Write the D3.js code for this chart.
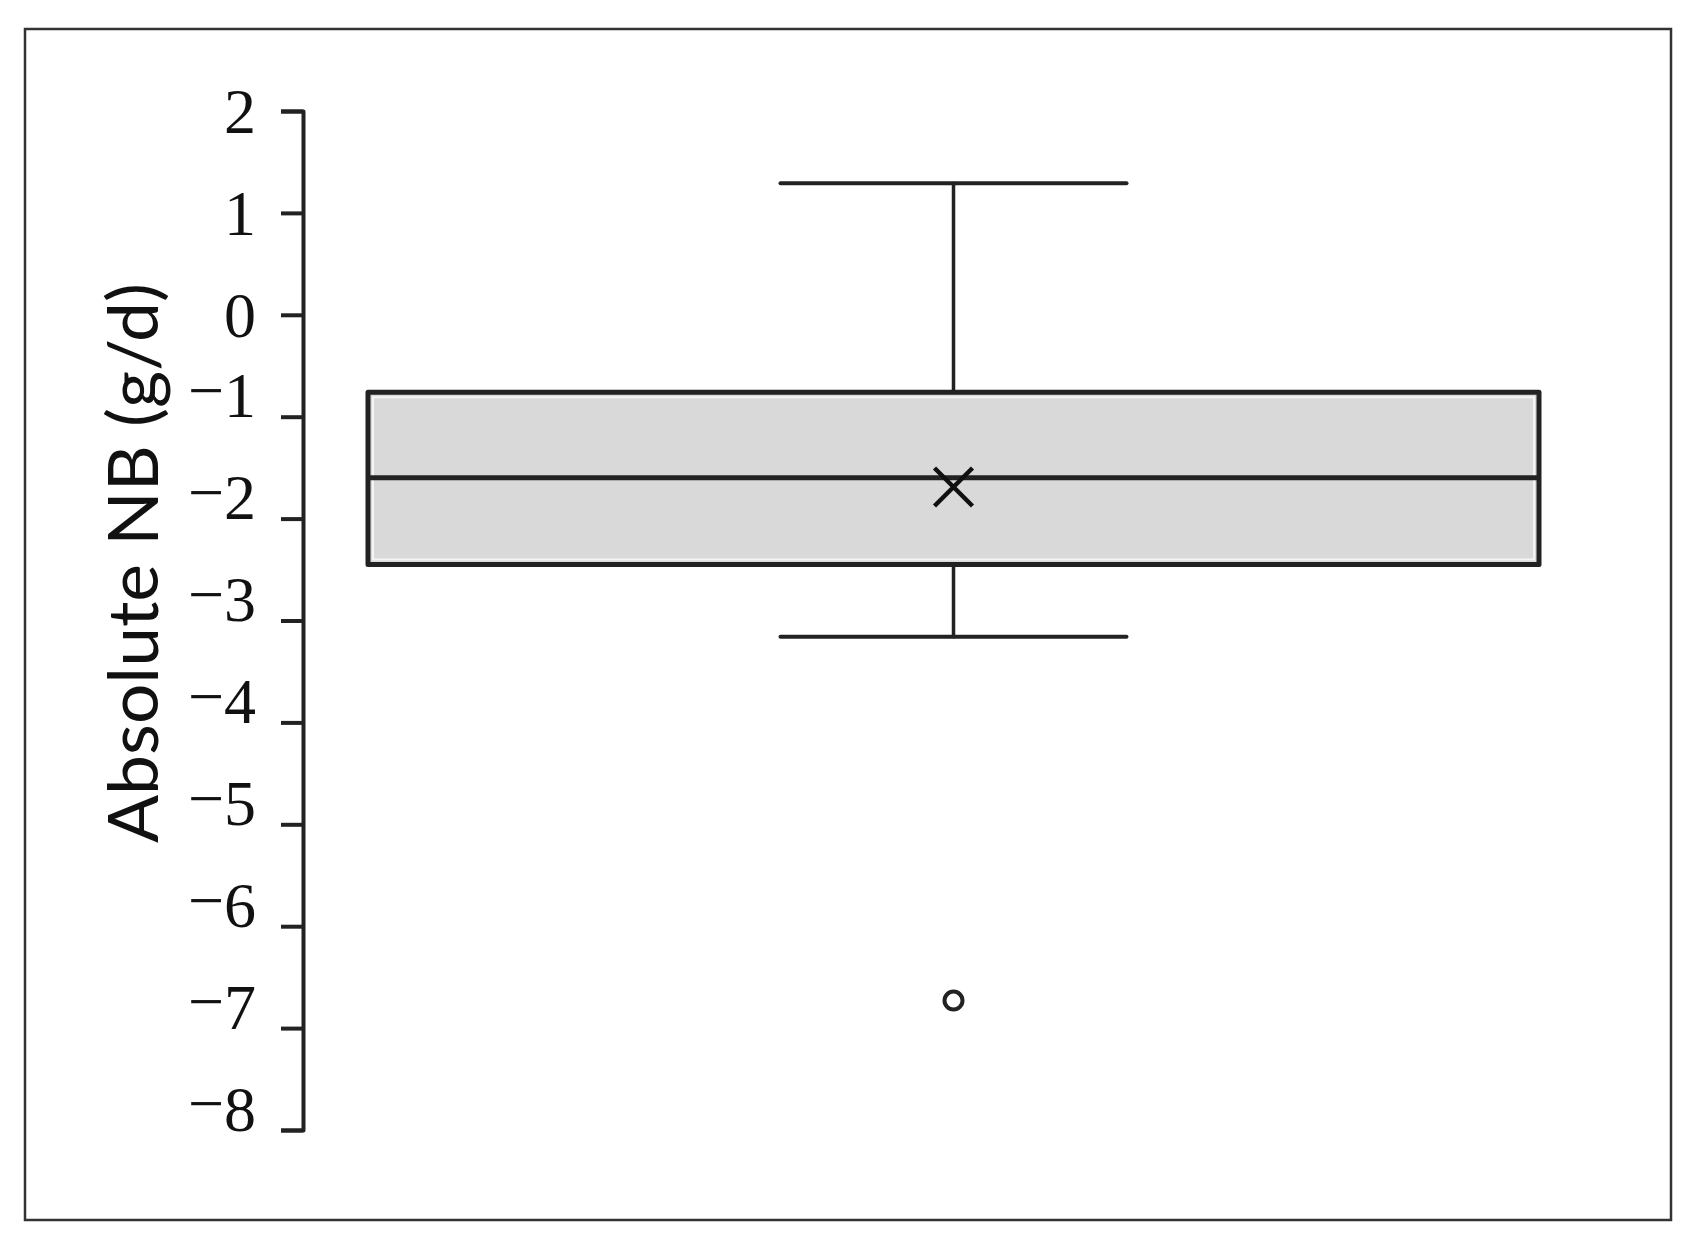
<!DOCTYPE html>
<html>
<head>
<meta charset="utf-8">
<script src="https://cdn.jsdelivr.net/npm/d3@7"></script>
<style>
  html, body { margin: 0; padding: 0; background: #fff; }
  svg { display: block; }
</style>
</head>
<body>
<svg width="1696" height="1247"></svg>
<script>
const svg = d3.select('svg');
const width = +svg.attr('width');
const height = +svg.attr('height');

// data
const categories = ['Absolute NB'];
const whiskerLow = [-3.16];
const q1 = [-2.45];
const median = [-1.60];
const q3 = [-0.76];
const whiskerHigh = [1.29];
const means = [-1.69];
const outliers = [[-6.73]];
const yTicks = [2, 1, 0, -1, -2, -3, -4, -5, -6, -7, -8];

const boxes = categories.map((c, i) => ({
    cat: c,
    lo: whiskerLow[i], q1: q1[i], med: median[i], q3: q3[i], hi: whiskerHigh[i],
    mean: means[i], out: outliers[i]
}));

// outer frame
svg.append('rect')
    .attr('x', 25).attr('y', 29)
    .attr('width', 1646).attr('height', 1191)
    .attr('fill', 'none')
    .attr('stroke', '#333')
    .attr('stroke-width', 2.5);

const y = d3.scaleLinear().domain([-8, 2]).range([1130, 111]);
const x = d3.scaleBand().domain(categories).range([368, 1539]).padding(0);

const axisX = 303;
const yAxis = d3.axisLeft(y)
    .tickValues(yTicks)
    .tickSize(22)
    .tickFormat(d => d);

const ag = svg.append('g')
    .attr('transform', `translate(${axisX},0)`)
    .call(yAxis);

ag.select('.domain').attr('stroke', '#222').attr('stroke-width', 4).attr('stroke-linejoin', 'round');
ag.selectAll('.tick line').attr('stroke', '#222').attr('stroke-width', 4);
ag.selectAll('.tick text').remove();

// tick labels, serif, with a long minus sign
ag.selectAll('.tick').append('text')
    .attr('x', -47)
    .attr('dy', '0.34em')
    .attr('text-anchor', 'end')
    .attr('fill', '#111')
    .style('font-family', '"Liberation Serif", "Times New Roman", serif')
    .style('font-size', '64px')
    .each(function (d) {
        const t = d3.select(this);
        if (d < 0) {
            t.append('tspan').attr('dy', '-0.08em').text('\u2212');
            t.append('tspan').attr('dy', '0.08em').text(Math.abs(d));
        } else {
            t.text(d);
        }
    });

// y label
svg.append('text')
    .attr('transform', 'translate(158,563) rotate(-90)')
    .attr('text-anchor', 'middle')
    .attr('fill', '#111')
    .style('font-family', 'Lato, "Open Sans", sans-serif')
    .style('font-size', '70px')
    .attr('textLength', 560)
    .attr('lengthAdjust', 'spacingAndGlyphs')
    .text('Absolute NB (g/d)');

const g = svg.append('g');
const capW = 346;

boxes.forEach(b => {
    const cx = x(b.cat) + x.bandwidth() / 2;
    const line = (x1, y1, x2, y2, w) => g.append('line')
        .attr('x1', x1).attr('y1', y1).attr('x2', x2).attr('y2', y2)
        .attr('stroke', '#222').attr('stroke-width', w).attr('stroke-linecap', 'round');

    // whiskers
    line(cx, y(b.hi), cx, y(b.q3), 3.5);
    line(cx, y(b.q1), cx, y(b.lo), 3.5);
    line(cx - capW / 2, y(b.hi), cx + capW / 2, y(b.hi), 4);
    line(cx - capW / 2, y(b.lo), cx + capW / 2, y(b.lo), 4);

    // box
    g.append('rect')
        .attr('x', x(b.cat)).attr('y', y(b.q3))
        .attr('width', x.bandwidth()).attr('height', y(b.q1) - y(b.q3))
        .attr('fill', '#d9d9d9')
        .attr('stroke', '#222').attr('stroke-width', 5)
        .attr('stroke-linejoin', 'round');
    // light inner edge
    g.append('rect')
        .attr('x', x(b.cat) + 5).attr('y', y(b.q3) + 5)
        .attr('width', x.bandwidth() - 10).attr('height', y(b.q1) - y(b.q3) - 10)
        .attr('fill', 'none')
        .attr('stroke', '#f4f4f4').attr('stroke-width', 2);

    // median
    line(x(b.cat), y(b.med), x(b.cat) + x.bandwidth(), y(b.med), 5).attr('stroke-linecap', 'butt');

    // mean marker
    const mx = cx, my = y(b.mean), s = 19;
    g.append('path')
        .attr('d', `M${mx - s},${my - s}L${mx + s},${my + s}M${mx - s},${my + s}L${mx + s},${my - s}`)
        .attr('stroke', '#111').attr('stroke-width', 4.5).attr('fill', 'none');

    // outliers
    g.selectAll(null).data(b.out).enter().append('circle')
        .attr('cx', cx).attr('cy', d => y(d))
        .attr('r', 9)
        .attr('fill', '#fff')
        .attr('stroke', '#222').attr('stroke-width', 4);
});
</script>
</body>
</html>
